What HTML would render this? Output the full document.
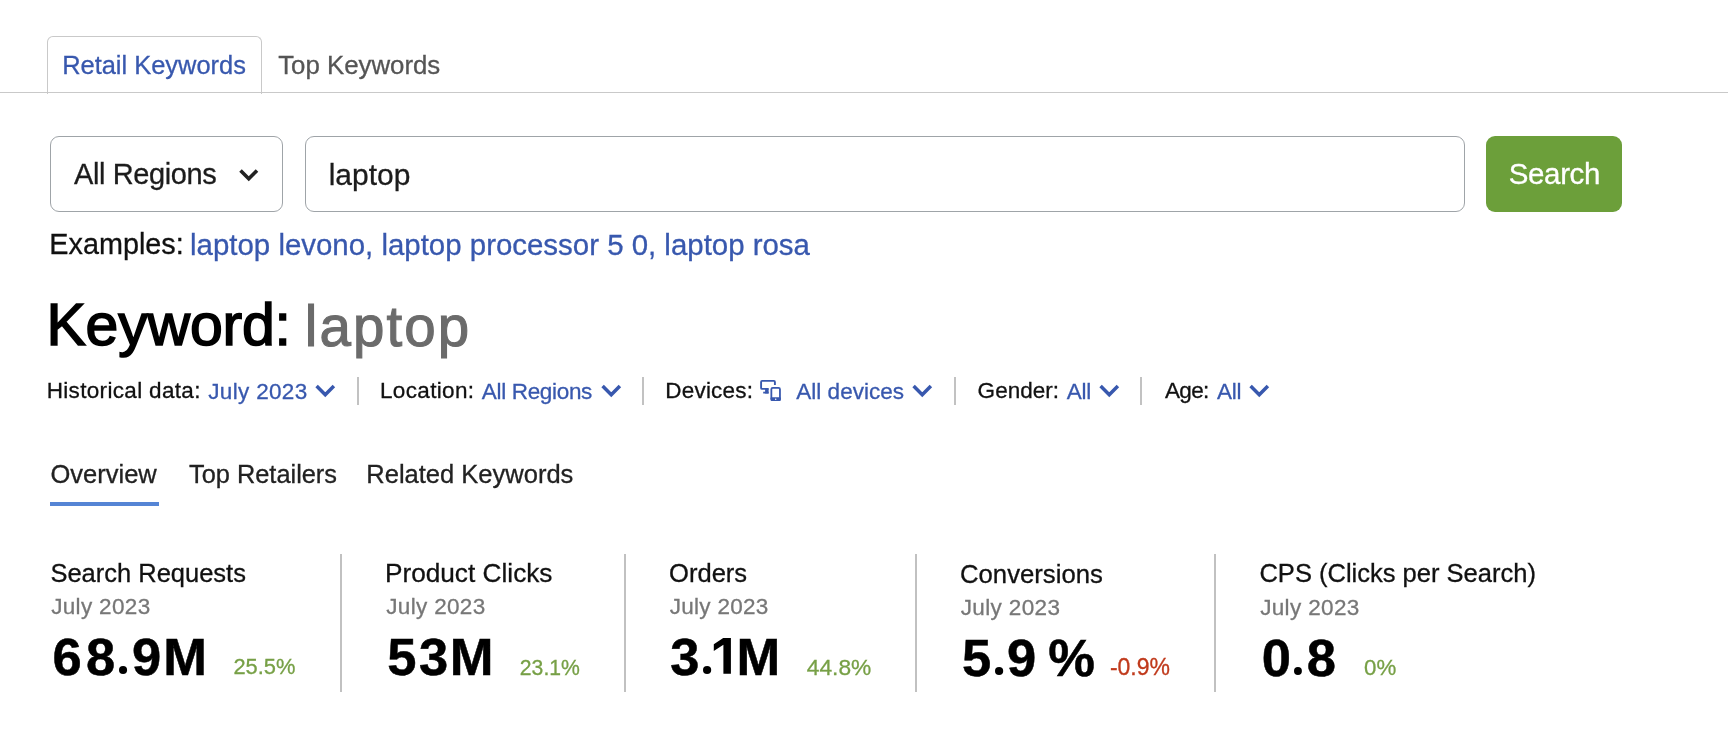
<!DOCTYPE html>
<html><head><meta charset="utf-8"><style>
html,body{margin:0;padding:0;background:#fff;width:1728px;height:742px;overflow:hidden;}
body{position:relative;font-family:"Liberation Sans",sans-serif;}
#w{position:absolute;left:0;top:0;width:1728px;height:742px;will-change:transform;background:#fff;}
.t{position:absolute;white-space:nowrap;-webkit-text-stroke:0.3px currentColor;}
.box{position:absolute;box-sizing:content-box;}
</style></head><body><div id="w">
<div class="box" style="left:47px;top:36px;width:213px;height:57px;border:1px solid #c9c9c9;border-bottom:none;border-radius:6px 6px 0 0;"></div><div class="box" style="left:0;top:92px;width:1728px;height:1px;background:#c9c9c9;"></div><div class="box" style="left:50px;top:136px;width:231px;height:74px;border:1px solid #9fa4a8;border-radius:9px;"></div><svg class="box" style="left:236px;top:164.8px" width="26" height="22" viewBox="0 0 26 22"><polyline points="4.5,5.5 12.75,13.75 21,5.5" fill="none" stroke="#222" stroke-width="3.6"/></svg><div class="box" style="left:305px;top:136px;width:1158px;height:74px;border:1px solid #9fa4a8;border-radius:9px;"></div><div class="box" style="left:1486px;top:136px;width:136px;height:76px;background:#6c9f3a;border-radius:9px;"></div><div class="box" style="left:357px;top:377px;width:2px;height:28px;background:#c2c2c2;"></div><div class="box" style="left:642px;top:377px;width:2px;height:28px;background:#c2c2c2;"></div><div class="box" style="left:954px;top:377px;width:2px;height:28px;background:#c2c2c2;"></div><div class="box" style="left:1140px;top:377px;width:2px;height:28px;background:#c2c2c2;"></div><svg class="box" style="left:313.2px;top:383.0px" width="24" height="16" viewBox="0 0 24 16"><polyline points="3.6,3.1 12.25,11.75 20.9,3.1" fill="none" stroke="#3858ae" stroke-width="3.5"/></svg><svg class="box" style="left:599.1px;top:383.0px" width="24" height="16" viewBox="0 0 24 16"><polyline points="3.6,3.1 12.25,11.75 20.9,3.1" fill="none" stroke="#3858ae" stroke-width="3.5"/></svg><svg class="box" style="left:910.0px;top:383.0px" width="24" height="16" viewBox="0 0 24 16"><polyline points="3.6,3.1 12.25,11.75 20.9,3.1" fill="none" stroke="#3858ae" stroke-width="3.5"/></svg><svg class="box" style="left:1096.5px;top:383.0px" width="24" height="16" viewBox="0 0 24 16"><polyline points="3.6,3.1 12.25,11.75 20.9,3.1" fill="none" stroke="#3858ae" stroke-width="3.5"/></svg><svg class="box" style="left:1247.3px;top:383.0px" width="24" height="16" viewBox="0 0 24 16"><polyline points="3.6,3.1 12.25,11.75 20.9,3.1" fill="none" stroke="#3858ae" stroke-width="3.5"/></svg><svg class="box" style="left:756px;top:376px" width="30" height="28" viewBox="756 376 30 28">
<path d="M768.6,388.9 H762.1 a1,1 0 0 1 -1,-1 V381.9 a1,1 0 0 1 1,-1 H773.9 a1,1 0 0 1 1,1 V385.1" fill="none" stroke="#3858ae" stroke-width="1.9"/>
<rect x="765.1" y="388.5" width="3.5" height="5" fill="#3858ae"/>
<rect x="763.2" y="391.7" width="5.4" height="1.8" fill="#3858ae"/>
<rect x="771.35" y="387.85" width="8.6" height="12.1" rx="1.4" fill="none" stroke="#3858ae" stroke-width="1.8"/>
<rect x="770.5" y="397.3" width="10.4" height="3.6" rx="1.2" fill="#3858ae"/>
<circle cx="775.7" cy="399.3" r="0.75" fill="#fff"/>
</svg><div class="box" style="left:50px;top:502px;width:109px;height:4px;background:#5585d5;"></div><div class="box" style="left:340px;top:554px;width:2px;height:138px;background:#c1c1c1;"></div><div class="box" style="left:624px;top:554px;width:2px;height:138px;background:#c1c1c1;"></div><div class="box" style="left:915px;top:554px;width:2px;height:138px;background:#c1c1c1;"></div><div class="box" style="left:1214px;top:554px;width:2px;height:138px;background:#c1c1c1;"></div><div class="t" style="left:62.14px;top:53.05px;font-size:25.45px;line-height:25.45px;color:#3858ae;font-weight:normal;letter-spacing:0.00px;">Retail Keywords</div>
<div class="t" style="left:278.15px;top:53.04px;font-size:25.82px;line-height:25.82px;color:#555555;font-weight:normal;letter-spacing:0.00px;">Top Keywords</div>
<div class="t" style="left:74.00px;top:159.55px;font-size:29.00px;line-height:29.00px;color:#1c1c1c;font-weight:normal;letter-spacing:-0.39px;">All Regions</div>
<div class="t" style="left:328.68px;top:159.63px;font-size:29.97px;line-height:29.97px;color:#1c1c1c;font-weight:normal;letter-spacing:0.00px;">laptop</div>
<div class="t" style="left:1508.68px;top:159.22px;font-size:29.50px;line-height:29.50px;color:#ffffff;font-weight:normal;letter-spacing:-0.34px;">Search</div>
<div class="t" style="left:49.36px;top:229.92px;font-size:28.79px;line-height:28.79px;color:#111111;font-weight:normal;letter-spacing:0.00px;">Examples:</div>
<div class="t" style="left:190.06px;top:229.88px;font-size:29.43px;line-height:29.43px;color:#3858ae;font-weight:normal;letter-spacing:0.00px;">laptop levono, laptop processor 5 0, laptop rosa</div>
<div class="t" style="left:46.42px;top:296.05px;font-size:59.00px;line-height:59.00px;color:#000000;font-weight:normal;letter-spacing:-0.19px;-webkit-text-stroke:1.6px #000;">Keyword:</div>
<div class="t" style="left:304.74px;top:298.86px;font-size:56.50px;line-height:56.50px;color:#6b6b6b;font-weight:normal;letter-spacing:2.12px;-webkit-text-stroke:1.1px #6b6b6b;">laptop</div>
<div class="t" style="left:46.68px;top:380.05px;font-size:22.50px;line-height:22.50px;color:#111111;font-weight:normal;letter-spacing:0.33px;">Historical data:</div>
<div class="t" style="left:208.31px;top:380.85px;font-size:22.50px;line-height:22.50px;color:#3858ae;font-weight:normal;letter-spacing:0.32px;">July 2023</div>
<div class="t" style="left:379.91px;top:380.05px;font-size:22.50px;line-height:22.50px;color:#111111;font-weight:normal;letter-spacing:0.36px;">Location:</div>
<div class="t" style="left:481.77px;top:380.85px;font-size:22.50px;line-height:22.50px;color:#3858ae;font-weight:normal;letter-spacing:-0.32px;">All Regions</div>
<div class="t" style="left:665.37px;top:380.05px;font-size:22.50px;line-height:22.50px;color:#111111;font-weight:normal;letter-spacing:0.18px;">Devices:</div>
<div class="t" style="left:796.23px;top:380.85px;font-size:22.50px;line-height:22.50px;color:#3858ae;font-weight:normal;letter-spacing:0.03px;">All devices</div>
<div class="t" style="left:977.61px;top:380.05px;font-size:22.50px;line-height:22.50px;color:#111111;font-weight:normal;letter-spacing:0.03px;">Gender:</div>
<div class="t" style="left:1066.85px;top:380.85px;font-size:22.50px;line-height:22.50px;color:#3858ae;font-weight:normal;letter-spacing:-0.24px;">All</div>
<div class="t" style="left:1164.93px;top:380.05px;font-size:22.50px;line-height:22.50px;color:#111111;font-weight:normal;letter-spacing:-0.64px;">Age:</div>
<div class="t" style="left:1217.00px;top:380.85px;font-size:22.50px;line-height:22.50px;color:#3858ae;font-weight:normal;letter-spacing:-0.24px;">All</div>
<div class="t" style="left:50.53px;top:462.11px;font-size:25.50px;line-height:25.50px;color:#222222;font-weight:normal;letter-spacing:0.00px;">Overview</div>
<div class="t" style="left:189.00px;top:462.23px;font-size:25.36px;line-height:25.36px;color:#222222;font-weight:normal;letter-spacing:0.00px;">Top Retailers</div>
<div class="t" style="left:366.29px;top:462.08px;font-size:25.53px;line-height:25.53px;color:#222222;font-weight:normal;letter-spacing:0.00px;">Related Keywords</div>
<div class="t" style="left:50.45px;top:560.72px;font-size:25.49px;line-height:25.49px;color:#111111;font-weight:normal;letter-spacing:0.00px;">Search Requests</div>
<div class="t" style="left:51.15px;top:595.85px;font-size:22.50px;line-height:22.50px;color:#777777;font-weight:normal;letter-spacing:0.34px;">July 2023</div>
<div class="t" style="left:233.38px;top:656.37px;font-size:21.88px;line-height:21.88px;color:#77a046;font-weight:normal;letter-spacing:0.00px;">25.5%</div>
<div class="t" style="left:384.91px;top:560.10px;font-size:26.22px;line-height:26.22px;color:#111111;font-weight:normal;letter-spacing:0.00px;">Product Clicks</div>
<div class="t" style="left:386.31px;top:595.85px;font-size:22.50px;line-height:22.50px;color:#777777;font-weight:normal;letter-spacing:0.32px;">July 2023</div>
<div class="t" style="left:519.84px;top:656.97px;font-size:21.18px;line-height:21.18px;color:#77a046;font-weight:normal;letter-spacing:0.00px;">23.1%</div>
<div class="t" style="left:669.07px;top:560.66px;font-size:25.55px;line-height:25.55px;color:#111111;font-weight:normal;letter-spacing:0.00px;">Orders</div>
<div class="t" style="left:669.77px;top:595.85px;font-size:22.50px;line-height:22.50px;color:#777777;font-weight:normal;letter-spacing:0.27px;">July 2023</div>
<div class="t" style="left:806.77px;top:655.63px;font-size:22.76px;line-height:22.76px;color:#77a046;font-weight:normal;letter-spacing:0.00px;">44.8%</div>
<div class="t" style="left:959.99px;top:561.63px;font-size:25.71px;line-height:25.71px;color:#111111;font-weight:normal;letter-spacing:0.00px;">Conversions</div>
<div class="t" style="left:960.69px;top:596.65px;font-size:22.50px;line-height:22.50px;color:#777777;font-weight:normal;letter-spacing:0.37px;">July 2023</div>
<div class="t" style="left:1109.92px;top:656.23px;font-size:23.00px;line-height:23.00px;color:#c03a1c;font-weight:normal;letter-spacing:0.00px;">-0.9%</div>
<div class="t" style="left:1259.45px;top:561.49px;font-size:25.52px;line-height:25.52px;color:#111111;font-weight:normal;letter-spacing:0.00px;">CPS (Clicks per Search)</div>
<div class="t" style="left:1260.15px;top:596.65px;font-size:22.50px;line-height:22.50px;color:#777777;font-weight:normal;letter-spacing:0.35px;">July 2023</div>
<div class="t" style="left:1364.07px;top:656.83px;font-size:22.29px;line-height:22.29px;color:#77a046;font-weight:normal;letter-spacing:0.00px;">0%</div>
<div class="t" style="left:52.38px;top:630.85px;font-size:52.5px;line-height:52.5px;font-weight:bold;color:#000;-webkit-text-stroke:0.5px #000">6</div>
<div class="t" style="left:86.08px;top:630.85px;font-size:52.5px;line-height:52.5px;font-weight:bold;color:#000;-webkit-text-stroke:0.5px #000">8</div>
<svg class="box" style="left:118.30px;top:664.40px" width="10.10" height="12" viewBox="118.30 664.40 10.10 12"><circle cx="123.35" cy="670.40" r="4.05" fill="#000"/></svg><div class="t" style="left:132.03px;top:630.85px;font-size:52.5px;line-height:52.5px;font-weight:bold;color:#000;-webkit-text-stroke:0.5px #000">9</div>
<div class="t" style="left:163.13px;top:630.85px;font-size:52.5px;line-height:52.5px;font-weight:bold;color:#000;-webkit-text-stroke:0.5px #000">M</div>
<div class="t" style="left:387.28px;top:630.85px;font-size:52.5px;line-height:52.5px;font-weight:bold;color:#000;-webkit-text-stroke:0.5px #000">5</div>
<div class="t" style="left:418.93px;top:630.85px;font-size:52.5px;line-height:52.5px;font-weight:bold;color:#000;-webkit-text-stroke:0.5px #000">3</div>
<div class="t" style="left:449.78px;top:630.85px;font-size:52.5px;line-height:52.5px;font-weight:bold;color:#000;-webkit-text-stroke:0.5px #000">M</div>
<div class="t" style="left:670.23px;top:630.85px;font-size:52.5px;line-height:52.5px;font-weight:bold;color:#000;-webkit-text-stroke:0.5px #000">3</div>
<svg class="box" style="left:702.00px;top:664.40px" width="10.20" height="12" viewBox="702.00 664.40 10.20 12"><circle cx="707.10" cy="670.40" r="4.10" fill="#000"/></svg><svg class="box" style="left:712px;top:636px" width="20" height="40" viewBox="712 636 20 40"><polygon points="713.8,644.3 723.2,637.9 730.9,637.9 730.9,673.8 723.4,673.8 723.4,644.7 713.8,651.1" fill="#000"/></svg><div class="t" style="left:736.58px;top:630.85px;font-size:52.5px;line-height:52.5px;font-weight:bold;color:#000;-webkit-text-stroke:0.5px #000">M</div>
<div class="t" style="left:962.03px;top:631.65px;font-size:52.5px;line-height:52.5px;font-weight:bold;color:#000;-webkit-text-stroke:0.5px #000">5</div>
<svg class="box" style="left:993.60px;top:665.10px" width="10.20" height="12" viewBox="993.60 665.10 10.20 12"><circle cx="998.70" cy="671.10" r="4.10" fill="#000"/></svg><div class="t" style="left:1007.03px;top:631.65px;font-size:52.5px;line-height:52.5px;font-weight:bold;color:#000;-webkit-text-stroke:0.5px #000">9</div>
<div class="t" style="left:1048.24px;top:631.65px;font-size:52.5px;line-height:52.5px;font-weight:bold;color:#000;-webkit-text-stroke:0.5px #000">%</div>
<div class="t" style="left:1261.78px;top:631.65px;font-size:52.5px;line-height:52.5px;font-weight:bold;color:#000;-webkit-text-stroke:0.5px #000">0</div>
<svg class="box" style="left:1293.30px;top:665.10px" width="9.90" height="12" viewBox="1293.30 665.10 9.90 12"><circle cx="1298.25" cy="671.10" r="3.95" fill="#000"/></svg><div class="t" style="left:1306.78px;top:631.65px;font-size:52.5px;line-height:52.5px;font-weight:bold;color:#000;-webkit-text-stroke:0.5px #000">8</div>

</div></body></html>
